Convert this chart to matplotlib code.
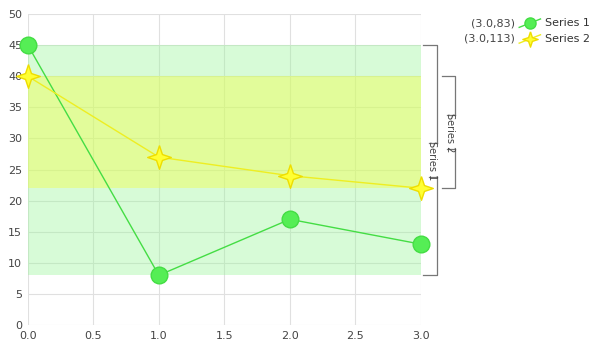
import matplotlib.pyplot as plt
import matplotlib.transforms as mtransforms
import numpy as np

# data
x = [0, 1, 2, 3]
series1 = [45, 8, 17, 13]
series2 = [40, 27, 24, 22]
names = ["Series 1", "Series 2"]

green_line = "#44dd44"
green_fill = "#55ee55"
yellow_line = "#eeee22"
yellow_fill = "#ffff33"

fig = plt.figure(figsize=(5.92, 3.51), dpi=100)
ax = fig.add_axes([0.047, 0.074, 0.664, 0.886])

# range bands (drawn over the grid, semi transparent)
ax.axhspan(min(series1), max(series1), color="#9cf59c", alpha=0.4, lw=0, zorder=1)
ax.axhspan(min(series2), max(series2), color="#f0ff50", alpha=0.45, lw=0, zorder=1)

star = [(0, 1), (0.25, 0.25), (1, 0), (0.25, -0.25), (0, -1), (-0.25, -0.25), (-1, 0), (-0.25, 0.25), (0, 1)]

ax.plot(x, series1, color=green_line, lw=1, marker="o", ms=12,
        mfc=green_fill, mec=green_line, zorder=3, clip_on=False)
ax.plot(x, series2, color=yellow_line, lw=1, marker=star, ms=17,
        mfc=yellow_fill, mec="#eedd00", zorder=3, clip_on=False)

ax.set_xlim(0, 3)
ax.set_ylim(0, 50)
ax.set_xticks(np.arange(0, 3.01, 0.5))
ax.set_yticks(np.arange(0, 51, 5))
ax.set_xticklabels([f"{v:.1f}" for v in np.arange(0, 3.01, 0.5)])
ax.grid(True, color="#e0e0e0", lw=0.8, zorder=0.5)
ax.set_axisbelow(True)
for s in ax.spines.values():
    s.set_visible(False)
ax.tick_params(length=0, labelsize=8, colors="#444444", pad=4)

# brackets showing each series range
trans = mtransforms.blended_transform_factory(ax.transAxes, ax.transData)
def bracket(lo, hi, x0, x1, label):
    mid = (lo + hi) / 2
    gap = 2.7
    kw = dict(color="#777777", lw=0.9, transform=trans, clip_on=False)
    ax.plot([x0, x1, x1], [hi, hi, mid + gap], **kw)
    ax.plot([x0, x1, x1], [lo, lo, mid - gap], **kw)
    ax.plot([x1 - 0.02, x1], [mid + gap, mid + gap], **kw)
    ax.plot([x1 - 0.02, x1], [mid - gap, mid - gap], **kw)
    ax.text(x1 - 0.012, mid, label, rotation=270, transform=trans,
            ha="center", va="center", fontsize=7, color="#444444")

bracket(min(series1), max(series1), 1.005, 1.041, names[0])
bracket(min(series2), max(series2), 1.053, 1.087, names[1])

# legend with sums at last point
legend_y = [0.934, 0.889]
for i, (vals, name) in enumerate(zip([series1, series2], names)):
    yy = legend_y[i]
    fig.text(0.870, yy, f"({x[-1]:.1f},{sum(vals)})", ha="right", va="center",
             fontsize=8, color="#444444")
    fig.text(0.920, yy, name, ha="left", va="center", fontsize=8, color="#333333")

lax = fig.add_axes([0.875, 0.85, 0.04, 0.12])
lax.set_xlim(0, 1)
lax.set_ylim(0.85, 0.97)
lax.axis("off")
lax.plot([0.05, 0.95], [legend_y[0] - 0.012, legend_y[0] + 0.012], color=green_line, lw=1)
lax.plot([0.5], [legend_y[0]], marker="o", ms=8, mfc=green_fill, mec=green_line)
lax.plot([0.05, 0.95], [legend_y[1] - 0.012, legend_y[1] + 0.012], color=yellow_line, lw=1)
lax.plot([0.5], [legend_y[1]], marker=star, ms=11, mfc=yellow_fill, mec="#eedd00")

plt.savefig("out.png", dpi=100)
